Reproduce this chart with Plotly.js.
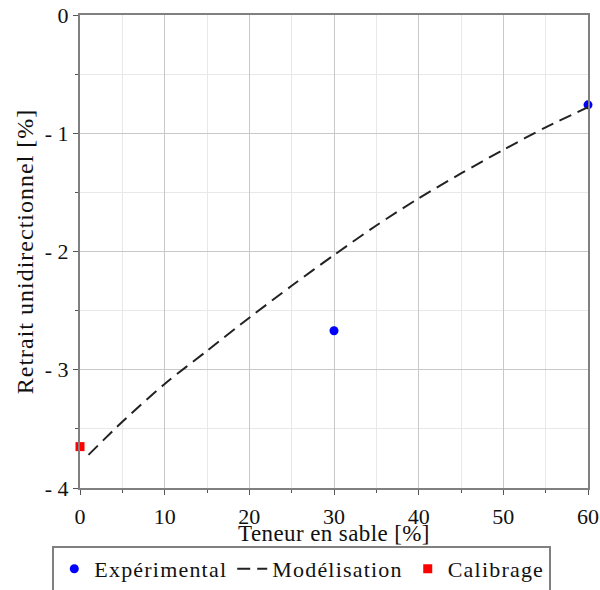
<!DOCTYPE html>
<html>
<head>
<meta charset="utf-8">
<script src="https://cdn.plot.ly/plotly-3.0.1.min.js"></script>
<style>
html,body{margin:0;padding:0;background:#fff;}
text.ytitle{letter-spacing:1px;}
text.xtitle{letter-spacing:0.4px;}
text.legendtext{letter-spacing:1.2px;}
</style>
</head>
<body>
<div id="chart" style="width:600px;height:590px;"></div>
<script>
// Data
const expX = [30, 60];
const expY = [-2.67, -0.76];
const modX = [1, 5, 10, 15, 20, 25, 30, 35, 40, 45, 50, 55, 60];
const modY = [-3.72, -3.44, -3.12, -2.84, -2.56, -2.29, -2.03, -1.78, -1.55, -1.34, -1.14, -0.95, -0.78];
const calX = [0];
const calY = [-3.65];
const xTicks = [0, 10, 20, 30, 40, 50, 60];
const xTickText = ["0", "10", "20", "30", "40", "50", "60"];
const yTicks = [0, -1, -2, -3, -4];
const yTickText = ["0", "- 1", "- 2", "- 3", "- 4"];

const serif = "Liberation Serif, Times New Roman, serif";

const traces = [
  {x: expX, y: expY, mode: "markers", name: "Expérimental",
   marker: {color: "#0000ff", size: 9, symbol: "circle"}, cliponaxis: false},
  {x: modX, y: modY, mode: "lines", name: "Modélisation",
   line: {color: "#222222", width: 2, dash: "13px,7px", shape: "spline", smoothing: 0.8}},
  {x: calX, y: calY, mode: "markers", name: "Calibrage",
   marker: {color: "#ff0000", size: 9, symbol: "square"}, cliponaxis: false}
];

const axisCommon = {
  showline: true, linecolor: "#808080", linewidth: 2, mirror: true,
  ticks: "outside", ticklen: 5, tickcolor: "#555", tickwidth: 1,
  showgrid: true, gridcolor: "#c8c8c8", gridwidth: 1,
  zeroline: false, automargin: false, ticklabeloverflow: "allow",
  tickfont: {family: serif, size: 22, color: "#111"}
};

const layout = {
  width: 600, height: 590,
  margin: {l: 80, r: 12, t: 15, b: 102},
  paper_bgcolor: "#fff", plot_bgcolor: "#fff",
  showlegend: true,
  xaxis: Object.assign({}, axisCommon, {
    range: [0, 60], tickmode: "array", tickvals: xTicks, ticktext: xTickText,
    ticklabelstandoff: 3,
    minor: {dtick: 5, tick0: 0, ticks: "outside", ticklen: 3, tickcolor: "#555", showgrid: true, gridcolor: "#e8e8e8"},
    title: {text: "Teneur en sable [%]", font: {family: serif, size: 23, color: "#111"}, standoff: 6}
  }),
  yaxis: Object.assign({}, axisCommon, {
    range: [-4, 0], tickmode: "array", tickvals: yTicks, ticktext: yTickText,
    minor: {dtick: 0.5, tick0: 0, ticks: "outside", ticklen: 3, tickcolor: "#555", showgrid: true, gridcolor: "#e8e8e8"},
    title: {text: "Retrait unidirectionnel [%]", font: {family: serif, size: 24, color: "#111"}, standoff: 4}
  }),
  legend: {
    orientation: "h", xref: "container", yref: "container",
    x: 0.503, xanchor: "center", y: 0.0746, yanchor: "top",
    bordercolor: "#808080", borderwidth: 2, bgcolor: "#fff",
    font: {family: serif, size: 22, color: "#111"},
    itemwidth: 30, tracegroupgap: 0
  }
};

Plotly.newPlot("chart", traces, layout, {displayModeBar: false, staticPlot: true});
</script>
</body>
</html>
